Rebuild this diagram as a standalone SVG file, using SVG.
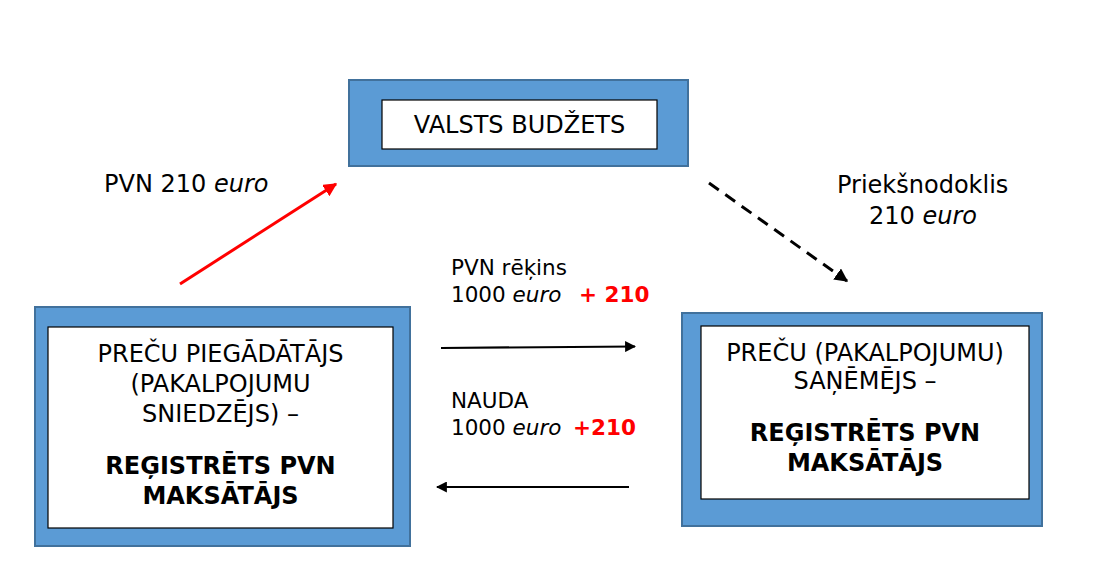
<svg xmlns="http://www.w3.org/2000/svg" width="1101" height="582" viewBox="0 0 1101 582">
<defs>
<style>
.outer{fill:#5B9BD5;stroke:#41719C;stroke-width:2}
.inner{fill:#FFFFFF;stroke:#000000;stroke-width:1.2}
text{font-family:"DejaVu Sans","Verdana","Liberation Sans",sans-serif;fill:#000}
.big{font-size:24px}
.bold{font-weight:bold}
.lbl{font-size:21.5px}
.red{fill:#FF0000;font-weight:bold}
.it{font-style:italic}
</style>
<marker id="ahBlack" viewBox="0 0 10 10" refX="9" refY="5" markerWidth="5" markerHeight="5" orient="auto" markerUnits="strokeWidth">
<path d="M0,0 L10,5 L0,10 z" fill="#000"/>
</marker>
<marker id="ahBlack2" viewBox="0 0 10 10" refX="9" refY="5" markerWidth="4.5" markerHeight="4.5" orient="auto" markerUnits="strokeWidth">
<path d="M0,0 L10,5 L0,10 z" fill="#000"/>
</marker>
<marker id="ahRed" viewBox="0 0 10 10" refX="9" refY="5" markerWidth="4.5" markerHeight="4.5" orient="auto" markerUnits="strokeWidth">
<path d="M0,0 L10,5 L0,10 z" fill="#FF0000"/>
</marker>
</defs>

<g id="budget">
<rect class="outer" x="349" y="80" width="339" height="86"/>
<rect class="inner" x="382" y="100" width="275" height="49"/>
<text class="big" x="519.5" y="133" text-anchor="middle">VALSTS BUDŽETS</text>
</g>

<g id="supplier">
<rect class="outer" x="35" y="307" width="375" height="239"/>
<rect class="inner" x="48" y="327" width="345" height="201"/>
<text class="big" text-anchor="middle" x="220.5" y="362">PREČU PIEGĀDĀTĀJS</text>
<text class="big" text-anchor="middle" x="220.5" y="392">(PAKALPOJUMU</text>
<text class="big" text-anchor="middle" x="220.5" y="422">SNIEDZĒJS) –</text>
<text class="big bold" text-anchor="middle" x="220.5" y="474">REĢISTRĒTS PVN</text>
<text class="big bold" text-anchor="middle" x="220.5" y="504">MAKSĀTĀJS</text>
</g>

<g id="receiver">
<rect class="outer" x="682" y="313" width="360" height="213"/>
<rect class="inner" x="701" y="326" width="328" height="173"/>
<text class="big" text-anchor="middle" x="865" y="361">PREČU (PAKALPOJUMU)</text>
<text class="big" text-anchor="middle" x="865" y="389">SAŅĒMĒJS –</text>
<text class="big bold" text-anchor="middle" x="865" y="441">REĢISTRĒTS PVN</text>
<text class="big bold" text-anchor="middle" x="865" y="471">MAKSĀTĀJS</text>
</g>

<g id="connectors">
<line x1="180" y1="284" x2="336" y2="184" stroke="#FF0000" stroke-width="3" marker-end="url(#ahRed)"/>
<line x1="709" y1="183" x2="847" y2="281" stroke="#000" stroke-width="3" stroke-dasharray="12,8" marker-end="url(#ahBlack2)"/>
<line x1="441" y1="348" x2="635" y2="346.5" stroke="#000" stroke-width="2.2" marker-end="url(#ahBlack)"/>
<line x1="629" y1="487" x2="437" y2="487" stroke="#000" stroke-width="2.2" marker-end="url(#ahBlack)"/>
</g>

<g id="labels">
<text class="big" x="104" y="192">PVN 210 <tspan class="it">euro</tspan></text>
<text class="big" x="837" y="193">Priekšnodoklis</text>
<text class="big" x="869" y="224">210 <tspan class="it">euro</tspan></text>
<text class="lbl" x="451" y="275">PVN rēķins</text>
<text class="lbl" x="451" y="302">1000 <tspan class="it">euro</tspan></text>
<text class="lbl red" x="579" y="302">+ 210</text>
<text class="lbl" x="451" y="408">NAUDA</text>
<text class="lbl" x="451" y="435">1000 <tspan class="it">euro</tspan></text>
<text class="lbl red" x="573" y="435">+210</text>
</g>
</svg>
